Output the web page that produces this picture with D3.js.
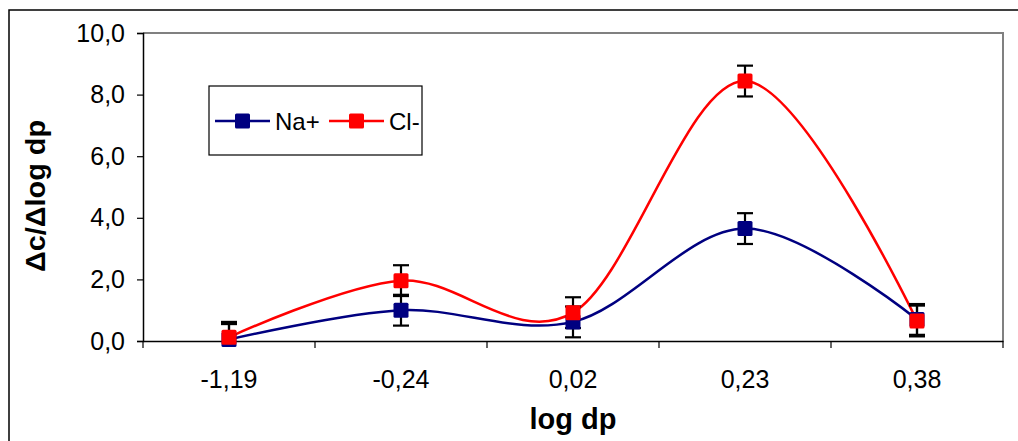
<!DOCTYPE html>
<html><head><meta charset="utf-8">
<script src="https://cdn.jsdelivr.net/npm/d3@7"></script>
<style>body{margin:0;background:#fff}svg{display:block;font-family:"Liberation Sans",Arial,sans-serif}</style>
</head><body><svg id="c" width="1018" height="441"></svg>
<script>
const categories = ["-1,19", "-0,24", "0,02", "0,23", "0,38"];
const naValues = [0.05, 1.0, 0.62, 3.65, 0.7];
const clValues = [0.12, 1.96, 0.92, 8.44, 0.65];
const naErrors = [0.5, 0.5, 0.5, 0.5, 0.5];
const clErrors = [0.5, 0.5, 0.5, 0.5, 0.5];
const yTicks = [0, 2, 4, 6, 8, 10];
const seriesNames = ["Na+", "Cl-"];
const seriesColors = ["#000080", "#ff0000"];

const svg = d3.select("#c");
const L = 143, R = 1003, T = 33, B = 341;

svg.append("rect").attr("x", 9).attr("y", 10).attr("width", 1040).attr("height", 460)
  .attr("fill", "#fff").attr("stroke", "#000").attr("stroke-width", 1.5);

const x = d3.scaleBand().domain(categories).range([L, R]);
const y = d3.scaleLinear().domain([0, 10]).range([B, T]);

svg.append("path").attr("d", `M${L},${T}H${R}V${B}`).attr("fill", "none")
  .attr("stroke", "#808080").attr("stroke-width", 2);

const fmt = d => d3.format(".1f")(d).replace(".", ",");
const yAxis = svg.append("g").attr("transform", `translate(${L},0)`)
  .call(d3.axisLeft(y).tickValues(yTicks).tickFormat(fmt).tickSizeOuter(0).tickSize(6).tickPadding(12));
yAxis.select(".domain").attr("stroke", "#000").attr("stroke-width", 1.5);
yAxis.selectAll(".tick line").attr("stroke", "#000").attr("stroke-width", 1.2);
yAxis.selectAll("text").attr("font-size", 25).attr("fill", "#000");

const xAxis = svg.append("g").attr("transform", `translate(0,${B})`)
  .call(d3.axisBottom(x).tickSize(0).tickPadding(29).tickSizeOuter(0));
xAxis.select(".domain").attr("stroke", "#000").attr("stroke-width", 1.5);
xAxis.selectAll("text").attr("font-size", 25).attr("fill", "#000");
const bounds = categories.map(c => x(c)).concat([R]);
svg.append("g").selectAll("line").data(bounds).join("line")
  .attr("x1", d => d).attr("x2", d => d).attr("y1", B).attr("y2", B + 7)
  .attr("stroke", "#000").attr("stroke-width", 1.2);

const cx = c => x(c) + x.bandwidth() / 2;
const series = [
  {name: seriesNames[0], vals: naValues, errs: naErrors, color: seriesColors[0]},
  {name: seriesNames[1], vals: clValues, errs: clErrors, color: seriesColors[1]}
];
const line = d3.line().x((d, i) => cx(categories[i])).y(d => y(d)).curve(d3.curveCardinal.tension(0));

series.forEach(s => {
  svg.append("path").attr("d", line(s.vals)).attr("fill", "none")
    .attr("stroke", s.color).attr("stroke-width", 2.5);
});

series.forEach(s => {
  const g = svg.append("g").attr("stroke", "#000").attr("stroke-width", 2.2);
  s.vals.forEach((v, i) => {
    const xc = cx(categories[i]);
    const hi = v + s.errs[i], lo = Math.max(0, v - s.errs[i]);
    g.append("line").attr("x1", xc).attr("x2", xc).attr("y1", y(hi)).attr("y2", y(lo));
    g.append("line").attr("x1", xc - 8).attr("x2", xc + 8).attr("y1", y(hi)).attr("y2", y(hi));
    if (v - s.errs[i] >= 0)
      g.append("line").attr("x1", xc - 8).attr("x2", xc + 8).attr("y1", y(lo)).attr("y2", y(lo));
  });
});

const M = 15;
series.forEach(s => {
  svg.append("g").selectAll("rect").data(s.vals).join("rect")
    .attr("x", (d, i) => cx(categories[i]) - M / 2).attr("y", d => y(d) - M / 2)
    .attr("width", M).attr("height", M).attr("rx", 1.5).attr("fill", s.color);
});

const lg = svg.append("g");
lg.append("rect").attr("x", 209).attr("y", 86).attr("width", 213).attr("height", 69)
  .attr("fill", "#fff").attr("stroke", "#000").attr("stroke-width", 1.2);
const legX = [215, 329];
series.forEach((s, i) => {
  const x0 = legX[i], yc = 121;
  lg.append("line").attr("x1", x0).attr("x2", x0 + 55).attr("y1", yc).attr("y2", yc)
    .attr("stroke", s.color).attr("stroke-width", 2.5);
  lg.append("rect").attr("x", x0 + 27.5 - M / 2).attr("y", yc - M / 2).attr("width", M).attr("height", M)
    .attr("rx", 1.5).attr("fill", s.color);
  lg.append("text").attr("x", x0 + 60).attr("y", yc + 9).attr("font-size", 24).text(s.name);
});

svg.append("text").attr("x", (L + R) / 2).attr("y", 429).attr("text-anchor", "middle")
  .attr("font-size", 29).attr("font-weight", "bold").text("log dp");
svg.append("text").attr("transform", `translate(45,196) rotate(-90)`).attr("text-anchor", "middle")
  .attr("font-size", 28).attr("font-weight", "bold")
  .attr("textLength", 152).attr("lengthAdjust", "spacingAndGlyphs").text("Δc/Δlog dp");
</script></body></html>
